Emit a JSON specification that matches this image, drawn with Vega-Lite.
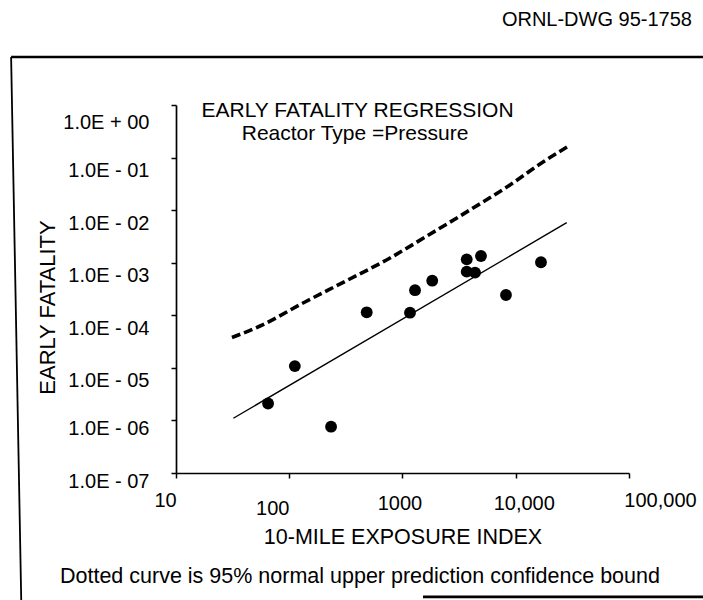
{
  "$schema": "https://vega.github.io/schema/vega-lite/v6.json",
  "width": 453,
  "height": 368,
  "autosize": {"type": "none"},
  "padding": {"left": 176, "top": 105, "right": 74, "bottom": 127},
  "background": "white",
  "config": {
    "view": {"stroke": null},
    "font": "Liberation Sans",
    "text": {"font": "Liberation Sans", "fontSize": 20, "color": "black"}
  },
  "datasets": {
    "plants": [
      {"exposure": 65, "fatality": 2.1e-6},
      {"exposure": 112, "fatality": 1.08e-5},
      {"exposure": 234, "fatality": 7.6e-7},
      {"exposure": 483, "fatality": 1.14e-4},
      {"exposure": 1165, "fatality": 1.12e-4},
      {"exposure": 1290, "fatality": 3.0e-4},
      {"exposure": 1830, "fatality": 4.55e-4},
      {"exposure": 3690, "fatality": 1.16e-3},
      {"exposure": 4930, "fatality": 1.34e-3},
      {"exposure": 3690, "fatality": 6.75e-4},
      {"exposure": 4370, "fatality": 6.46e-4},
      {"exposure": 8200, "fatality": 2.43e-4},
      {"exposure": 16700, "fatality": 1.02e-3}
    ],
    "regression": [
      {"exposure": 32.1, "fatality": 1.1e-6},
      {"exposure": 28180, "fatality": 5.77e-3}
    ],
    "upper_bound": [
      {"exposure": 31.2, "fatality": 3.78e-5},
      {"exposure": 55.2, "fatality": 6.25e-5},
      {"exposure": 137.7, "fatality": 1.79e-4},
      {"exposure": 310, "fatality": 4.39e-4},
      {"exposure": 776, "fatality": 1.23e-3},
      {"exposure": 1644, "fatality": 3.22e-3},
      {"exposure": 3945, "fatality": 1.01e-2},
      {"exposure": 8890, "fatality": 3.01e-2},
      {"exposure": 16370, "fatality": 7.55e-2},
      {"exposure": 28380, "fatality": 0.159}
    ]
  },
  "layer": [
    {
      "data": {"values": [{}]},
      "mark": {"type": "rule", "color": "black", "strokeWidth": 1.8},
      "encoding": {
        "x": {"datum": 0.35, "type": "quantitative", "scale": {"type": "log"}},
        "x2": {"datum": 0.43},
        "y": {"datum": 8.19, "type": "quantitative", "scale": {"type": "log"}},
        "y2": {"datum": 3.8e-10}
      }
    },
    {
      "data": {"values": [{}]},
      "mark": {"type": "rule", "color": "black", "strokeWidth": 2.6},
      "encoding": {
        "x": {"datum": 0.35, "type": "quantitative", "scale": {"type": "log"}},
        "x2": {"datum": 1000000},
        "y": {"datum": 8.19, "type": "quantitative", "scale": {"type": "log"}}
      }
    },
    {
      "data": {"values": [{}]},
      "mark": {"type": "rule", "color": "black", "strokeWidth": 2.6},
      "encoding": {
        "x": {"datum": 1517, "type": "quantitative", "scale": {"type": "log"}},
        "x2": {"datum": 1000000},
        "y": {"datum": 4.4e-10, "type": "quantitative", "scale": {"type": "log"}}
      }
    },
    {
      "data": {"name": "upper_bound"},
      "mark": {"type": "line", "color": "black", "strokeWidth": 3.6, "strokeDash": [9, 4], "interpolate": "monotone"},
      "encoding": {
        "x": {"field": "exposure", "type": "quantitative", "scale": {"type": "log", "domain": [10, 100000]}},
        "y": {"field": "fatality", "type": "quantitative", "scale": {"type": "log", "domain": [1e-7, 1]}}
      }
    },
    {
      "data": {"name": "regression"},
      "mark": {"type": "line", "color": "black", "strokeWidth": 1.4},
      "encoding": {
        "x": {"field": "exposure", "type": "quantitative", "scale": {"type": "log", "domain": [10, 100000]}},
        "y": {"field": "fatality", "type": "quantitative", "scale": {"type": "log", "domain": [1e-7, 1]}}
      }
    },
    {
      "data": {"name": "plants"},
      "mark": {"type": "point", "filled": true, "color": "black", "opacity": 1, "size": 140},
      "encoding": {
        "x": {
          "field": "exposure",
          "type": "quantitative",
          "scale": {"type": "log", "domain": [10, 100000]},
          "axis": {
            "title": "10-MILE EXPOSURE INDEX",
            "values": [10, 100, 1000, 10000, 100000],
            "labelExpr": "datum.value == 10 ? '10' : datum.value == 100 ? '100' : datum.value == 1000 ? '1000' : datum.value == 10000 ? '10,000' : '100,000'",
            "labelFont": "Liberation Sans",
            "labelFontSize": 20,
            "labelColor": "black",
            "labelFlush": false,
            "labelOverlap": false,
            "labelBound": false,
            "labelOffset": {"expr": "datum.value == 10 ? -11 : datum.value == 100 ? -17 : datum.value == 1000 ? -3 : datum.value == 10000 ? 8 : 31"},
            "labelPadding": {"expr": "datum.value == 100 ? 20 : (datum.value == 1000 || datum.value == 10000) ? 15 : 12"},
            "grid": false,
            "tickSize": 5,
            "tickWidth": 1.5,
            "tickColor": "black",
            "domainColor": "black",
            "domainWidth": 1.6,
            "titleFont": "Liberation Sans",
            "titleFontSize": 21.5,
            "titleFontWeight": "normal",
            "titleColor": "black",
            "titlePadding": 8
          }
        },
        "y": {
          "field": "fatality",
          "type": "quantitative",
          "scale": {"type": "log", "domain": [1e-7, 1]},
          "axis": {
            "title": "EARLY FATALITY",
            "values": [1e-7, 1e-6, 1e-5, 1e-4, 1e-3, 1e-2, 1e-1, 1],
            "labelExpr": "'1.0E ' + (datum.value >= 0.5 ? '+ 00' : '- 0' + round(-log(datum.value) / LN10))",
            "labelFont": "Liberation Sans",
            "labelFontSize": 20,
            "labelColor": "black",
            "labelOverlap": false,
            "labelBound": false,
            "labelFlush": false,
            "labelOffset": {"expr": "datum.value >= 0.5 ? 17 : datum.value < 5e-6 ? 8 : 13"},
            "labelPadding": 22,
            "grid": false,
            "tickSize": 5,
            "tickWidth": 1.5,
            "tickColor": "black",
            "domainColor": "black",
            "domainWidth": 1.7,
            "titleFont": "Liberation Sans",
            "titleFontSize": 22,
            "titleFontWeight": "normal",
            "titleColor": "black",
            "titlePadding": 3,
            "titleY": 202
          }
        }
      }
    },
    {
      "data": {"values": [{}]},
      "mark": {"type": "text", "align": "center", "baseline": "middle", "fontSize": 21},
      "encoding": {
        "x": {"datum": 401, "type": "quantitative", "scale": {"type": "log"}},
        "y": {"datum": 0.769, "type": "quantitative", "scale": {"type": "log"}},
        "text": {"value": "EARLY FATALITY REGRESSION"}
      }
    },
    {
      "data": {"values": [{}]},
      "mark": {"type": "text", "align": "center", "baseline": "middle", "fontSize": 21},
      "encoding": {
        "x": {"datum": 381, "type": "quantitative", "scale": {"type": "log"}},
        "y": {"datum": 0.281, "type": "quantitative", "scale": {"type": "log"}},
        "text": {"value": "Reactor Type =Pressure"}
      }
    },
    {
      "data": {"values": [{}]},
      "mark": {"type": "text", "align": "right", "baseline": "middle", "fontSize": 20},
      "encoding": {
        "x": {"datum": 359700, "type": "quantitative", "scale": {"type": "log"}},
        "y": {"datum": 42.3, "type": "quantitative", "scale": {"type": "log"}},
        "text": {"value": "ORNL-DWG 95-1758"}
      }
    },
    {
      "data": {"values": [{}]},
      "mark": {"type": "text", "align": "center", "baseline": "middle", "fontSize": 21.5},
      "encoding": {
        "x": {"datum": 421, "type": "quantitative", "scale": {"type": "log"}},
        "y": {"datum": 1.05e-9, "type": "quantitative", "scale": {"type": "log"}},
        "text": {"value": "Dotted curve is 95% normal upper prediction confidence bound"}
      }
    }
  ]
}
